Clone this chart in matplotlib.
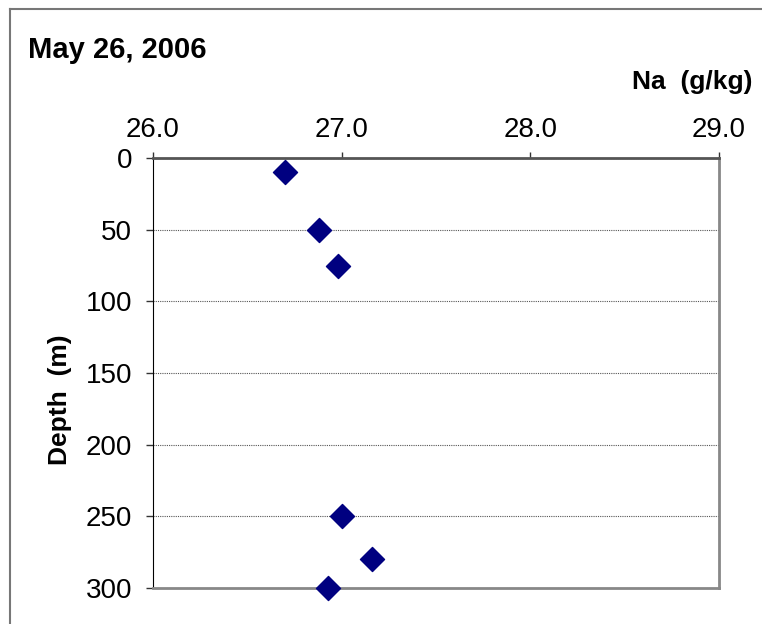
import matplotlib
matplotlib.use('agg')
import matplotlib.pyplot as plt
from matplotlib.lines import Line2D

plt.rcParams['font.family'] = ['Liberation Sans', 'DejaVu Sans']

# Na concentration vs depth
na = [26.70, 26.88, 26.98, 27.00, 27.16, 26.93]
depth = [10, 50, 75, 250, 280, 300]
xticks = [26.0, 27.0, 28.0, 29.0]
yticks = [0, 50, 100, 150, 200, 250, 300]

fig = plt.figure(figsize=(7.62, 6.24), dpi=100)
ax = fig.add_axes([153 / 762, 1 - 588 / 624, (719 - 153) / 762, (588 - 158) / 624])

ax.scatter(na, depth, marker='D', s=150, color='#000080', zorder=3, clip_on=False)

ax.set_xlim(26.0, 29.0)
ax.set_ylim(300, 0)
ax.xaxis.tick_top()
ax.set_xticks(xticks)
ax.set_xticklabels(['%.1f' % v for v in xticks])
ax.set_yticks(yticks)
ax.tick_params(axis='both', labelsize=20, direction='out', width=1,
               color='#333333')
ax.tick_params(axis='x', pad=6.5, length=4.5)
ax.tick_params(axis='y', pad=10, length=5)
ax.yaxis.grid(True, linestyle=(0, (1, 1)), color='#555555', linewidth=0.8)
ax.set_axisbelow(True)

ax.spines['left'].set_color('black')
ax.spines['top'].set_color('#555555')
ax.spines['top'].set_linewidth(2)
ax.spines['right'].set_color('#888888')
ax.spines['right'].set_linewidth(2)
ax.spines['bottom'].set_color('#888888')
ax.spines['bottom'].set_linewidth(2)

fig.text(60 / 762, 1 - 400 / 624, 'Depth  (m)', fontsize=19, fontweight='bold',
         rotation=90, ha='center', va='center')
fig.text(28 / 762, 1 - 50 / 624, 'May 26, 2006', fontsize=21, fontweight='bold',
         ha='left', va='center')
fig.text(752 / 762, 1 - 82 / 624, 'Na  (g/kg)', fontsize=19, fontweight='bold',
         ha='right', va='center')

# outer chart frame
fig.add_artist(Line2D([10 / 762, 1], [1 - 9 / 624] * 2, transform=fig.transFigure,
                      color='#777777', linewidth=1.5))
fig.add_artist(Line2D([10 / 762] * 2, [0, 1 - 9 / 624], transform=fig.transFigure,
                      color='#777777', linewidth=1.5))

fig.savefig('out.png', dpi=100)
